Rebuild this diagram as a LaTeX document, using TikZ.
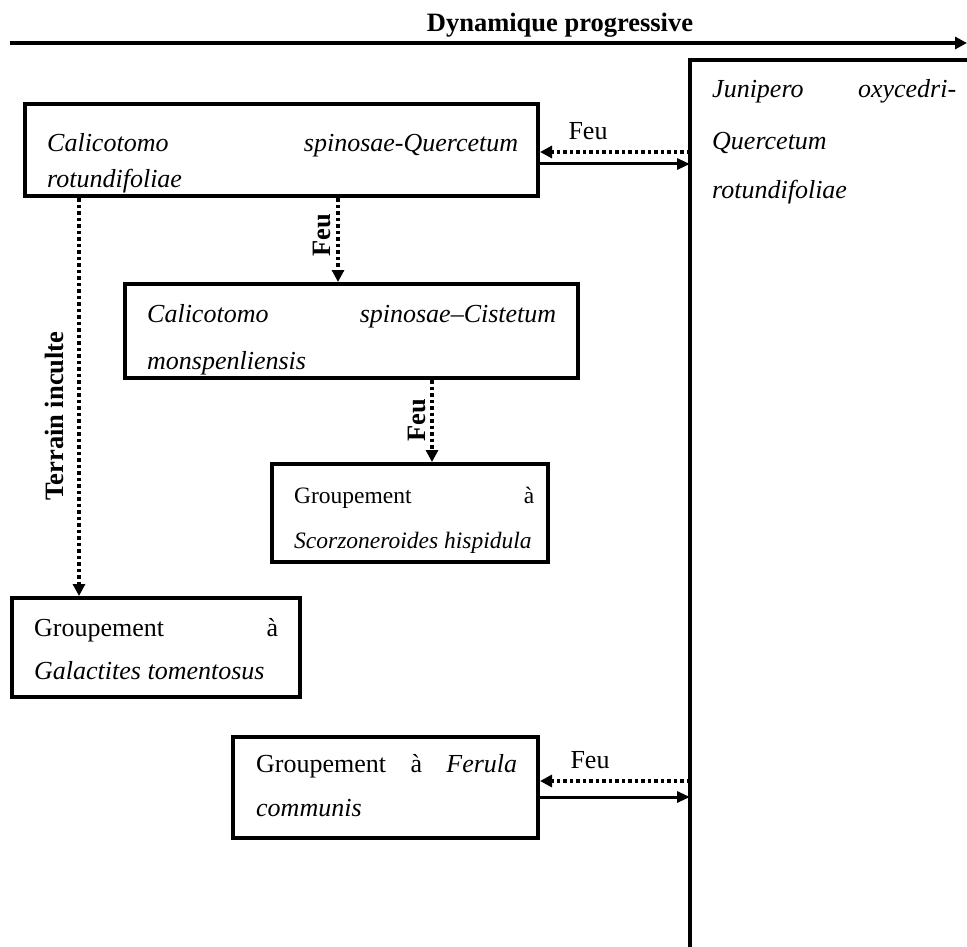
\documentclass[tikz,border=0pt]{standalone}
\usepackage{fontspec}
\setmainfont{Liberation Serif}
\usetikzlibrary{arrows.meta,calc}
\begin{document}
\begin{tikzpicture}[x=1pt,y=-1pt,
  box/.style={draw,line width=4pt,rectangle,inner sep=0pt},
  txt/.style={anchor=base west,inner sep=0pt,font=\fontsize{26}{30}\selectfont},
  frame/.style={line width=4pt},
  dotarr/.style={line width=3.5pt,dash pattern=on 3.5pt off 3pt,
    -{Triangle[length=12pt,width=12pt]}},
  solarr/.style={line width=3pt,-{Triangle[length=13pt,width=11pt]}},
  toparr/.style={line width=4pt,-{Triangle[length=12pt,width=12pt]}},
  lbl/.style={font=\fontsize{26}{30}\selectfont,inner sep=0pt},
  vlbl/.style={font=\fontsize{26.5}{30}\selectfont\bfseries,rotate=90,inner sep=0pt}]
\useasboundingbox (0,0) rectangle (967,947);

% top arrow
\coordinate (tstart) at (10,43);
\coordinate (tend) at (967,43);
\draw[toparr] (tstart) -- (tend);
\node[lbl,font=\fontsize{26.5}{30}\selectfont\bfseries] (title) at (560,25) {Dynamique progressive};

% right box (cut by the page edges)
\coordinate (jq) at (690,60);
\coordinate (jqbl) at (690,947);
\coordinate (jqtr) at (967,60);
\draw[frame] (jqbl) -- (jq) -- (jqtr);
\node[txt] (jqa) at (712,98) {\hbox to 244pt{\itshape Junipero\hfill oxycedri-}};
\node[txt] (jqb) at (712,150) {\itshape Quercetum};
\node[txt] (jqc) at (712,199) {\itshape rotundifoliae};

% boxes
\node[box,minimum width=513pt,minimum height=92pt] (b1) at (281.5,150) {};
\node[txt] (t1a) at (47,152) {\hbox to 471pt{\itshape Calicotomo\hfill spinosae-Quercetum}};
\node[txt] (t1b) at (47,188) {\itshape rotundifoliae};

\node[box,minimum width=453pt,minimum height=94pt] (b2) at (351.5,331) {};
\node[txt] (t2a) at (147,322) {\hbox to 409pt{\itshape Calicotomo\hfill spinosae–Cistetum}};
\node[txt] (t2b) at (147,369) {\itshape monspenliensis};

\node[box,minimum width=276pt,minimum height=98pt] (b3) at (410,513) {};
\node[txt,font=\fontsize{23.5}{30}\selectfont] (t3a) at (294,503) {\hbox to 240pt{Groupement\hfill à}};
\node[txt,font=\fontsize{23.5}{30}\selectfont] (t3b) at (294,548) {\itshape Scorzoneroides hispidula};

\node[box,minimum width=288pt,minimum height=99pt] (b4) at (156,647.5) {};
\node[txt] (t4a) at (34,636) {\hbox to 244pt{Groupement\hfill à}};
\node[txt] (t4b) at (34,679) {\itshape Galactites tomentosus};

\node[box,minimum width=305pt,minimum height=101pt] (b5) at (385.5,787.5) {};
\node[txt] (t5a) at (256,772) {\hbox to 261pt{Groupement\hfill à\hfill \textit{Ferula}}};
\node[txt] (t5b) at (256,816) {\itshape communis};

% arrows b1 <-> right box
\coordinate (b1d) at ([yshift=-2pt]b1.east);
\coordinate (b1s) at ([yshift=-14pt]b1.east);
\draw[dotarr] (b1d -| jq) -- (b1d);
\draw[solarr] (b1s) -- (b1s -| jq);
\node[lbl] (feu1) at (588,131) {Feu};

% arrows b5 <-> right box
\coordinate (b5d) at ([yshift=6.5pt]b5.east);
\coordinate (b5s) at ([yshift=-9.5pt]b5.east);
\draw[dotarr] (b5d -| jq) -- (b5d);
\draw[solarr] (b5s) -- (b5s -| jq);
\node[lbl] (feu4) at (590,760) {Feu};

% vertical arrows
\coordinate (x1) at (338,0);
\coordinate (x2) at (432,0);
\coordinate (x3) at (79,0);
\draw[dotarr] (b1.south -| x1) -- (b2.north -| x1);
\node[vlbl] (feu2) at (322,235) {Feu};
\draw[dotarr] (b2.south -| x2) -- (b3.north -| x2);
\node[vlbl] (feu3) at (417,420) {Feu};
\draw[dotarr] (b1.south -| x3) -- (b4.north -| x3);
\node[vlbl] (terr) at (54,416) {Terrain inculte};
\end{tikzpicture}
\end{document}
